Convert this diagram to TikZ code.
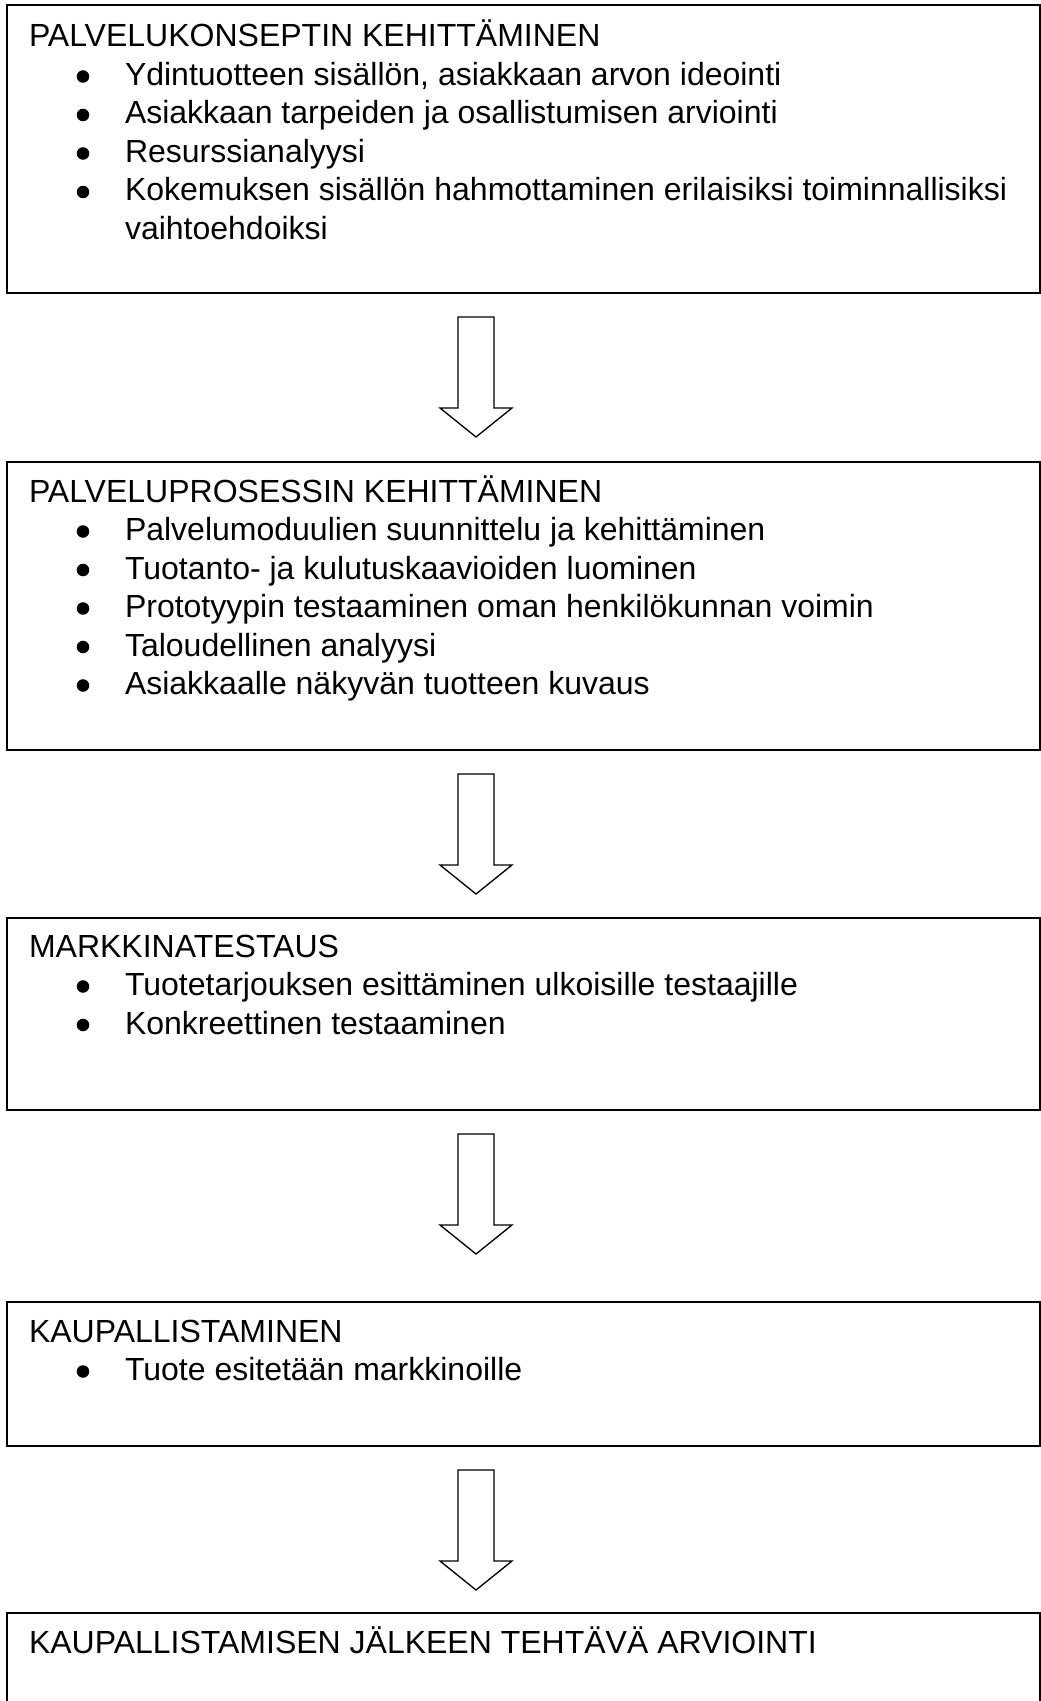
\documentclass[tikz,border=0pt]{standalone}
\usepackage{fontspec}
\setmainfont{Liberation Sans}
\usetikzlibrary{calc}
\tikzset{
  box/.style={draw, line width=1.5pt, anchor=north west, minimum width=775pt, inner sep=0pt, outer sep=0pt},
  txt/.style={anchor=base west, inner sep=0pt, outer sep=0pt, font=\fontsize{24}{29}\selectfont},
  barrow/.style={draw, line width=1pt, line join=miter, fill=white},
}
\newcommand{\bitem}[3]{%
  \fill ($(83,#2)+(0,-9)$) circle[radius=4.7pt];
  \node[txt] (#1) at (125,#2) {#3};}
\newcommand{\blockarrow}[2]{%
  \draw[barrow] (#1.south west) ++(451,24) -- ++(36,0) -- ++(0,91) -- ++(18,0)
     -- ++(-36,29) coordinate (#2) -- ++(-36,-29) -- ++(18,0) -- cycle;}
\begin{document}
\begin{tikzpicture}[x=0.75pt,y=-0.75pt]
\useasboundingbox (0,0) rectangle (1041,1701);
\clip (0,0) rectangle (1041,1701);
\fill[white] (0,0) rectangle (1041,1701);

% Box 1
\node[box, minimum height=216pt] (b1) at (7,5) {};
\node[txt] (t1) at (29,47) {PALVELUKONSEPTIN KEHITTÄMINEN};
\bitem{i11}{85.5}{Ydintuotteen sisällön, asiakkaan arvon ideointi}
\bitem{i12}{124}{Asiakkaan tarpeiden ja osallistumisen arviointi}
\bitem{i13}{162.5}{Resurssianalyysi}
\bitem{i14}{201}{Kokemuksen sisällön hahmottaminen erilaisiksi toiminnallisiksi}
\node[txt] (i14b) at (125,239.5) {vaihtoehdoiksi};

% Box 2
\node[box, minimum height=216pt] (b2) at (7,462) {};
\node[txt] (t2) at (29,502) {PALVELUPROSESSIN KEHITTÄMINEN};
\bitem{i21}{540.5}{Palvelumoduulien suunnittelu ja kehittäminen}
\bitem{i22}{579}{Tuotanto- ja kulutuskaavioiden luominen}
\bitem{i23}{617.5}{Prototyypin testaaminen oman henkilökunnan voimin}
\bitem{i24}{656}{Taloudellinen analyysi}
\bitem{i25}{694.5}{Asiakkaalle näkyvän tuotteen kuvaus}

% Box 3
\node[box, minimum height=144pt] (b3) at (7,918) {};
\node[txt] (t3) at (29,957) {MARKKINATESTAUS};
\bitem{i31}{995.5}{Tuotetarjouksen esittäminen ulkoisille testaajille}
\bitem{i32}{1034}{Konkreettinen testaaminen}

% Box 4
\node[box, minimum height=108pt] (b4) at (7,1302) {};
\node[txt] (t4) at (29,1342) {KAUPALLISTAMINEN};
\bitem{i41}{1380.5}{Tuote esitetään markkinoille}

% Box 5
\node[box, minimum height=90pt] (b5) at (7,1613) {};
\node[txt] (t5) at (29,1653) {KAUPALLISTAMISEN JÄLKEEN TEHTÄVÄ ARVIOINTI};

% Block arrows
\blockarrow{b1}{a1}
\blockarrow{b2}{a2}
\blockarrow{b3}{a3}
\blockarrow{b4}{a4}
\end{tikzpicture}
\end{document}
